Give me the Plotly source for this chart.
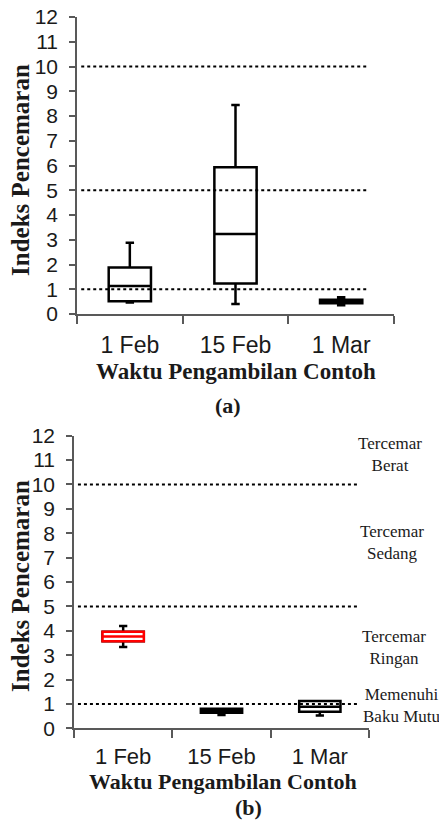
import plotly.graph_objects as go

# ---------------- data ----------------
categories = ["1 Feb", "15 Feb", "1 Mar"]

# panel (a)
a_lower = [0.46, 0.40, 0.35]
a_q1 = [0.52, 1.23, 0.43]
a_median = [1.13, 3.23, 0.52]
a_q3 = [1.88, 5.93, 0.58]
a_upper = [2.88, 8.44, 0.68]

# panel (b)
b_lower = [3.33, 0.55, 0.52]
b_q1 = [3.57, 0.64, 0.68]
b_median = [3.76, 0.72, 0.88]
b_q3 = [3.96, 0.80, 1.12]
b_upper = [4.20, 0.80, 1.12]

thresholds = [1, 5, 10]
y_ticks = list(range(0, 13))
zone_labels = ["Tercemar<br>Berat", "Tercemar<br>Sedang",
               "Tercemar<br>Ringan", "Memenuhi<br>Baku Mutu"]
zone_y = [11.24, 7.63, 3.33, 0.95]

W, H = 439, 823
AX = "#595959"
SANS = "Liberation Sans, Arial, sans-serif"
SERIF = "Liberation Serif, Times New Roman, serif"

fig = go.Figure()
xpos = list(range(len(categories)))


def add_box(i, lo, q1, med, q3, hi, xa, ya, color, width):
    fig.add_trace(go.Box(
        x=[xpos[i]], q1=[q1], median=[med], q3=[q3],
        lowerfence=[lo], upperfence=[hi],
        width=width, whiskerwidth=0.2, boxpoints=False,
        line=dict(color=color, width=2.5), fillcolor="white",
        xaxis=xa, yaxis=ya, showlegend=False, hoverinfo="skip"))


for i in range(len(categories)):
    add_box(i, a_lower[i], a_q1[i], a_median[i], a_q3[i], a_upper[i],
            "x", "y", "black", 0.4)

for i in range(len(categories)):
    add_box(i, b_lower[i], b_q1[i], b_median[i], b_q3[i], b_upper[i],
            "x2", "y2", "black", 0.42)
# red box overlay for first date in panel (b)
add_box(0, b_q1[0], b_q1[0], b_median[0], b_q3[0], b_q3[0],
        "x2", "y2", "red", 0.42)

for t in thresholds:
    fig.add_shape(type="line", xref="x", yref="y", x0=-0.46, x1=2.25,
                  y0=t, y1=t, line=dict(color="black", width=2, dash="dot"))
    fig.add_shape(type="line", xref="x2", yref="y2", x0=-0.46, x1=2.38,
                  y0=t, y1=t, line=dict(color="black", width=2, dash="dot"))


def xaxis_opts(size, standoff):
    return dict(
        range=[-0.5, 2.5], tickmode="array", tickvals=xpos, ticktext=categories,
        ticks="", showline=True, linecolor=AX, linewidth=1.5, showgrid=False,
        zeroline=False, tickfont=dict(family=SANS, size=size, color="#1a1a1a"),
        ticklabelstandoff=standoff,
        minor=dict(tickmode="array", tickvals=[-0.5, 0.5, 1.5, 2.5],
                   ticks="outside", ticklen=8, tickcolor=AX, tickwidth=1.5),
        fixedrange=True, automargin=False)


yaxis_common = dict(
    range=[0, 12], tickmode="array", tickvals=y_ticks, ticks="outside",
    ticklen=6, tickcolor=AX, tickwidth=1.5, showline=True, linecolor=AX,
    linewidth=1.5, showgrid=False, zeroline=False, ticklabelstandoff=7,
    tickfont=dict(family=SANS, size=21, color="#1a1a1a"), fixedrange=True,
    automargin=False)

fig.update_layout(
    width=W, height=H, margin=dict(l=0, r=0, t=0, b=0, autoexpand=False),
    paper_bgcolor="white", plot_bgcolor="white", showlegend=False,
    xaxis=dict(domain=[77 / W, 394 / W], anchor="y", **xaxis_opts(23, 10)),
    yaxis=dict(domain=[(H - 314) / H, (H - 17) / H], anchor="x", **yaxis_common),
    xaxis2=dict(domain=[74 / W, 369 / W], anchor="y2", **xaxis_opts(22, 8)),
    yaxis2=dict(domain=[(H - 728.3) / H, (H - 435.7) / H], anchor="x2", **yaxis_common),
)

ann = []


def add_text(text, px, py, size, angle=0, family=SERIF, yref="paper", yval=None):
    ann.append(dict(text=text, x=px / W, xref="paper",
                    y=(1 - py / H) if yval is None else yval, yref=yref,
                    xanchor="center", yanchor="middle", textangle=angle,
                    showarrow=False, align="center",
                    font=dict(family=family, size=size, color="#1a1a1a")))


# y titles
add_text("<b>Indeks Pencemaran</b>", 20, 170, 25, angle=-90)
add_text("<b>Indeks Pencemaran</b>", 20, 586, 25, angle=-90)
# x titles
add_text("<b>Waktu Pengambilan Contoh</b>", 236, 371, 23)
add_text("<b>Waktu Pengambilan Contoh</b>", 223, 781, 22)
# panel labels
add_text("<b>(a)</b>", 228, 406, 22)
add_text("<b>(b)</b>", 248, 807, 22)
# zone labels
zone_x = [390, 392, 394, 401]
for lab, zy, zx in zip(zone_labels, zone_y, zone_x):
    add_text(lab, zx, 0, 17, yref="y2", yval=zy)
fig.update_layout(annotations=ann)

fig.write_html("out.html", config={"displayModeBar": False},
               post_script="document.body.style.margin='0';"
                           "document.body.style.padding='0';")
